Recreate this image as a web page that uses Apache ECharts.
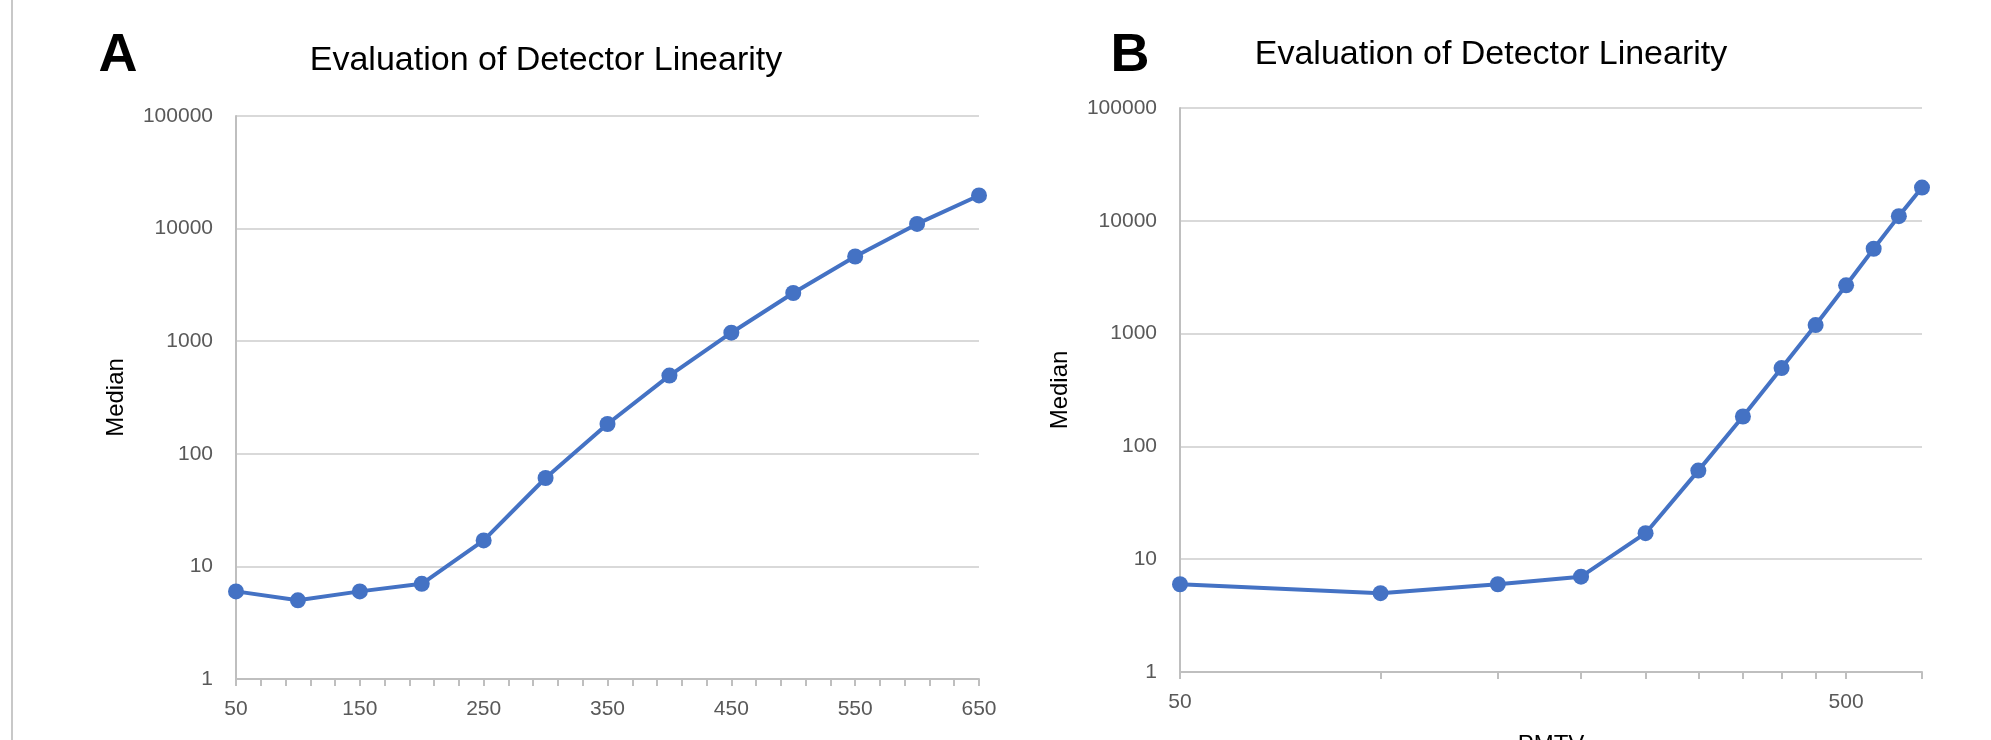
<!DOCTYPE html>
<html>
<head>
<meta charset="utf-8">
<title>Evaluation of Detector Linearity</title>
<script src="https://cdn.jsdelivr.net/npm/echarts@6/dist/echarts.min.js"></script>
<style>
  html, body { margin: 0; padding: 0; background: #fff; }
  #chart { width: 1991px; height: 740px; }
</style>
</head>
<body>
<div id="chart"></div>
<script>
  const pmtv = [50, 100, 150, 200, 250, 300, 350, 400, 450, 500, 550, 600, 650];
  const median = [6, 5, 6, 7, 17, 61, 184, 495, 1190, 2680, 5650, 11000, 19700];

  // axis ticks / labels
  const xLabelsA = [50, 150, 250, 350, 450, 550, 650];
  const xTicksA = [50, 70, 90, 110, 130, 150, 170, 190, 210, 230, 250, 270, 290, 310, 330,
    350, 370, 390, 410, 430, 450, 470, 490, 510, 530, 550, 570, 590, 610, 630, 650];
  const xLabelsB = [50, 500];
  const xTicksB = [50, 100, 150, 200, 250, 300, 350, 400, 450, 500, 650];

  const blue = '#4472C4';
  const labelFont = '"Liberation Sans", Arial, sans-serif';

  const points = pmtv.map((x, i) => [x, median[i]]);

  const chart = echarts.init(document.getElementById('chart'));

  // shared y axis (log, decades)
  const yAxisBase = () => ({
    type: 'log',
    logBase: 10,
    min: 1,
    max: 100000,
    name: 'Median',
    nameLocation: 'middle',
    nameRotate: 90,
    nameGap: 108,
    nameTextStyle: { fontFamily: labelFont, fontSize: 24, color: '#000' },
    axisLine: { show: true, lineStyle: { color: '#bfbfbf', width: 2 } },
    axisTick: { show: false },
    axisLabel: {
      margin: 23,
      fontFamily: labelFont,
      fontSize: 21,
      color: '#595959',
      formatter: v => String(Math.round(v))
    },
    splitLine: { show: true, lineStyle: { color: '#d9d9d9', width: 2 } },
    minorTick: { show: false },
    minorSplitLine: { show: false }
  });

  const xAxisCommon = {
    name: 'PMTV',
    nameLocation: 'middle',
    nameGap: 61,
    nameTextStyle: { fontFamily: labelFont, fontSize: 24, color: '#000', verticalAlign: 'top' },
    axisLine: { show: true, lineStyle: { color: '#bfbfbf', width: 2 } },
    splitLine: { show: false }
  };

  const option = {
    animation: false,
    backgroundColor: '#fff',
    grid: [
      { left: 236, top: 116, width: 743, height: 563, outerBoundsMode: 'none', containLabel: false },
      { left: 1180, top: 108, width: 742, height: 564, outerBoundsMode: 'none', containLabel: false }
    ],
    xAxis: [
      Object.assign({}, xAxisCommon, {
        type: 'value',
        gridIndex: 0,
        min: 50,
        max: 650,
        axisTick: { show: true, length: 7, lineStyle: { color: '#bfbfbf', width: 2 }, customValues: xTicksA },
        axisLabel: { margin: 20, fontFamily: labelFont, fontSize: 21, color: '#595959', customValues: xLabelsA }
      }),
      Object.assign({}, xAxisCommon, {
        type: 'log',
        logBase: 10,
        gridIndex: 1,
        min: 50,
        max: 650,
        axisTick: { show: true, length: 7, lineStyle: { color: '#bfbfbf', width: 2 }, customValues: xTicksB },
        axisLabel: { margin: 20, fontFamily: labelFont, fontSize: 21, color: '#595959', customValues: xLabelsB }
      })
    ],
    yAxis: [
      Object.assign(yAxisBase(), { gridIndex: 0 }),
      Object.assign(yAxisBase(), { gridIndex: 1 })
    ],
    series: [0, 1].map(idx => ({
      type: 'line',
      xAxisIndex: idx,
      yAxisIndex: idx,
      data: points,
      symbol: 'circle',
      symbolSize: 16,
      lineStyle: { color: blue, width: 4 },
      itemStyle: { color: blue },
      z: 3
    })),
    graphic: [
      // faint page border on the left
      { type: 'rect', left: 11, top: 0, shape: { width: 2, height: 740 }, style: { fill: '#c8c8c8' } },
      { type: 'text', x: 118, y: 56, style: { text: 'A', font: 'bold 54px "Liberation Sans", Arial, sans-serif', fill: '#000', align: 'center', verticalAlign: 'middle' } },
      { type: 'text', x: 1130, y: 56, style: { text: 'B', font: 'bold 54px "Liberation Sans", Arial, sans-serif', fill: '#000', align: 'center', verticalAlign: 'middle' } },
      { type: 'text', x: 546, y: 61, style: { text: 'Evaluation of Detector Linearity', font: '34px "Liberation Sans", Arial, sans-serif', fill: '#000', align: 'center', verticalAlign: 'middle' } },
      { type: 'text', x: 1491, y: 55, style: { text: 'Evaluation of Detector Linearity', font: '34px "Liberation Sans", Arial, sans-serif', fill: '#000', align: 'center', verticalAlign: 'middle' } }
    ]
  };

  chart.setOption(option);
</script>
</body>
</html>
